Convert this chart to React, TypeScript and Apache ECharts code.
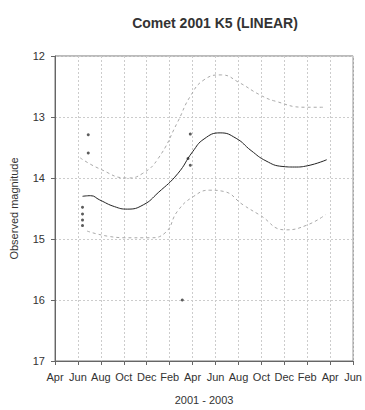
import React, { useEffect, useRef } from "react";
import * as echarts from "echarts";

// x = months since 1 Apr 2001
const monthLabels = ["Apr", "Jun", "Aug", "Oct", "Dec", "Feb", "Apr", "Jun", "Aug", "Oct", "Dec", "Feb", "Apr", "Jun"];
const yTicks = [12, 13, 14, 15, 16, 17];

const fitX = [2.4, 3.1, 3.9, 5.2, 6.3, 7.7, 9.0, 10.7, 12.0, 13.0, 14.4, 15.8, 17.1, 18.4, 19.8, 20.9, 22.0, 23.7];
const fitY = [14.30, 14.29, 14.36, 14.47, 14.51, 14.44, 14.24, 13.93, 13.57, 13.36, 13.26, 13.35, 13.55, 13.72, 13.81, 13.82, 13.80, 13.70];

const upperX = [2.2, 3.9, 6.3, 7.6, 9.0, 10.7, 11.8, 13.0, 14.5, 16.1, 17.8, 19.2, 21.8, 23.6];
const upperY = [13.67, 13.85, 14.0, 13.93, 13.68, 13.08, 12.66, 12.39, 12.31, 12.44, 12.63, 12.74, 12.84, 12.84];

const lowerX = [2.8, 6.1, 8.2, 9.6, 10.7, 12.1, 13.5, 14.7, 16.4, 17.8, 20.1, 22.0, 23.6];
const lowerY = [14.87, 14.98, 14.98, 14.9, 14.54, 14.3, 14.2, 14.22, 14.44, 14.6, 14.85, 14.77, 14.6];

const obsX = [2.9, 2.9, 2.4, 2.4, 2.4, 2.4, 11.8, 11.6, 11.8, 11.1];
const obsY = [13.29, 13.59, 14.48, 14.59, 14.69, 14.78, 13.28, 13.68, 13.79, 16.0];

const zip = (xs: number[], ys: number[]) => xs.map((x, i) => [x, ys[i]]);

export default function App() {
  const ref = useRef<HTMLDivElement>(null);
  useEffect(() => {
    document.body.style.margin = "0";
    const chart = echarts.init(ref.current!, null, { renderer: "svg" });
    const font = "'Liberation Sans', Arial, sans-serif";
    chart.setOption({
      animation: false,
      backgroundColor: "#fff",
      title: {
        text: "Comet 2001 K5 (LINEAR)",
        left: 210,
        textAlign: "center",
        top: 11,
        textStyle: { fontFamily: font, fontSize: 14, fontWeight: "bold", color: "#333" },
      },
      grid: {
        left: 54, right: 3, top: 56, bottom: 45,
        show: true, borderColor: "#777", borderWidth: 1,
      },
      xAxis: {
        type: "value",
        min: 0, max: 26, interval: 2,
        name: "2001 - 2003",
        nameLocation: "middle",
        nameGap: 33,
        nameTextStyle: { fontFamily: font, fontSize: 11, color: "#333" },
        axisLine: { lineStyle: { color: "#666" } },
        axisTick: { show: true, length: 4, lineStyle: { color: "#666" } },
        axisLabel: {
          fontFamily: font, fontSize: 11, color: "#333", margin: 10,
          formatter: (v: number) => monthLabels[Math.round(v / 2)] ?? "",
        },
        splitLine: { show: true, lineStyle: { color: "#ccc", type: [2, 2] } },
      },
      yAxis: {
        type: "value",
        inverse: true,
        min: 12, max: 17, interval: 1,
        name: "Observed magnitude",
        nameLocation: "middle",
        nameGap: 36,
        nameTextStyle: { fontFamily: font, fontSize: 11, color: "#333" },
        axisLine: { show: true, lineStyle: { color: "#666" } },
        axisTick: { show: true, length: 4, lineStyle: { color: "#666" } },
        axisLabel: {
          fontFamily: font, fontSize: 11, color: "#333", margin: 10,
          formatter: (v: number) => (yTicks.includes(v) ? String(v) : ""),
        },
        splitLine: { show: true, lineStyle: { color: "#ccc", type: [2, 2] } },
      },
      series: [
        {
          type: "line", data: zip(upperX, upperY), smooth: 0.5, showSymbol: false,
          lineStyle: { color: "#aaa", width: 1, type: [3, 3] },
        },
        {
          type: "line", data: zip(lowerX, lowerY), smooth: 0.5, showSymbol: false,
          lineStyle: { color: "#aaa", width: 1, type: [3, 3] },
        },
        {
          type: "line", data: zip(fitX, fitY), smooth: 0.5, showSymbol: false,
          lineStyle: { color: "#222", width: 1 },
        },
        {
          type: "scatter", data: zip(obsX, obsY), symbol: "circle", symbolSize: 3,
          itemStyle: { color: "#333" },
        },
      ],
    });
    return () => chart.dispose();
  }, []);
  return <div ref={ref} style={{ width: 365, height: 410 }} />;
}
